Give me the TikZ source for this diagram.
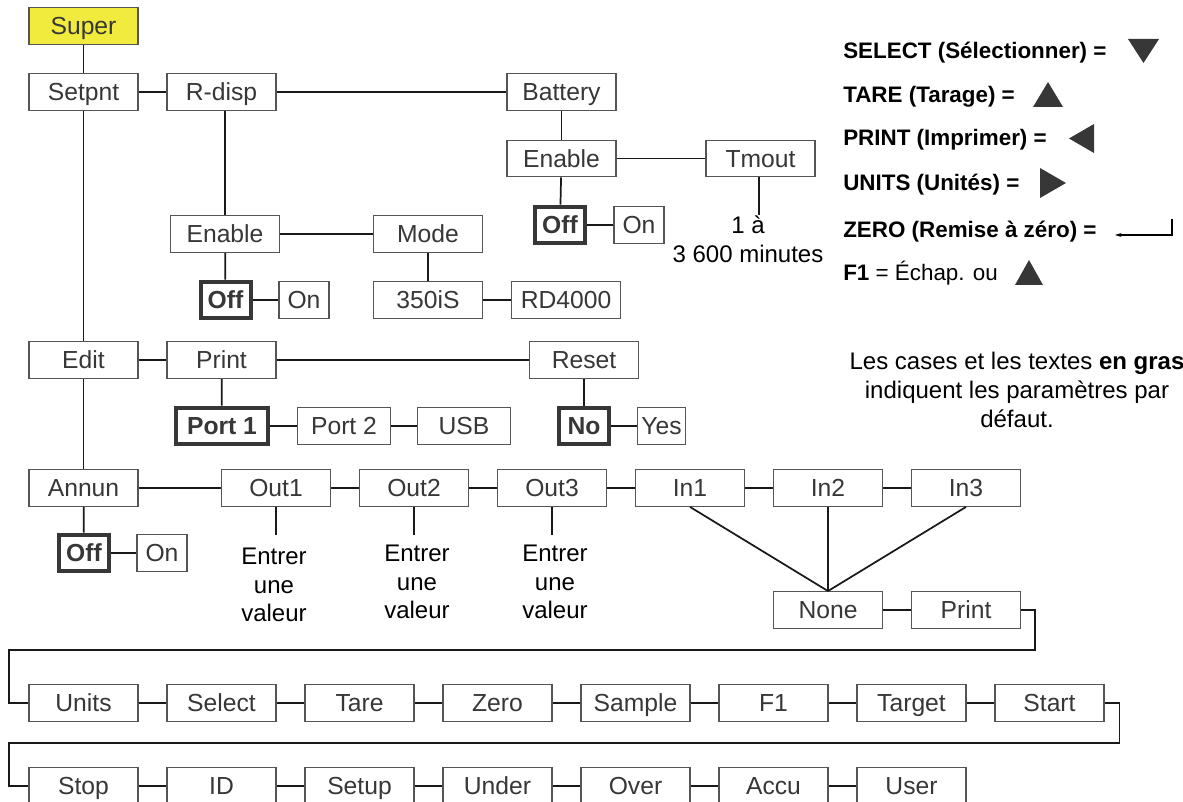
\documentclass[tikz,border=0pt]{standalone}
\usepackage{fontspec}
\setmainfont{Liberation Sans}
\usetikzlibrary{positioning, arrows.meta, calc}
\definecolor{superyellow}{RGB}{240,235,60}
\definecolor{edge}{RGB}{85,85,85}
\definecolor{ink}{RGB}{55,55,55}
\definecolor{wire}{RGB}{25,25,25}

\begin{document}
\begin{tikzpicture}[
    x=0.75pt, y=-0.75pt,
    box/.style={draw=edge, line width=0.9pt, fill=white, minimum width=81.75pt, minimum height=27.5pt, inner sep=0pt, text height=13.3pt, text depth=0pt, text=ink, font=\fontsize{18.5}{20}\selectfont},
    small/.style={box, minimum width=37.5pt},
    dflt/.style={box, line width=3pt, draw=ink, minimum width=37.5pt, font=\fontsize{18.5}{20}\selectfont\bfseries},
    wire/.style={draw=wire, line width=1.3pt},
    note/.style={align=center, text=black, inner sep=0pt, font=\fontsize{17.5}{21.5}\selectfont},
    key/.style={anchor=base west, inner sep=0pt, text=black, font=\fontsize{16.8}{20}\selectfont}
]
    \useasboundingbox (0,0) rectangle (1183,802);

    % main menu column
    \node[box, fill=superyellow] (super) at (83.5,26) {Super};
    \node[box] (setpnt) at (83.5,92) {Setpnt};
    \node[box] (rdisp) at (221.5,92) {R-disp};
    \node[box] (battery) at (561.5,92) {Battery};

    % battery branch
    \node[box] (benable) at (561.5,158.5) {Enable};
    \node[box] (tmout) at (760.5,158.5) {Tmout};
    \node[dflt] (boff) at (560,225) {Off};
    \node[small] (bon) at (639,225) {On};
    \node[note, font=\fontsize{18}{22}\selectfont] (tmval) at (748,239) {1 à\\3 600 minutes};

    % r-disp branch
    \node[box] (renable) at (225,234) {Enable};
    \node[box] (mode) at (428,234) {Mode};
    \node[dflt] (roff) at (225.5,300) {Off};
    \node[small] (ron) at (304,300) {On};
    \node[box] (m350) at (428,300) {350iS};
    \node[box] (rd4000) at (566,300) {RD4000};

    % edit
    \node[box] (edit) at (83.5,360) {Edit};
    \node[box] (print) at (221.5,360) {Print};
    \node[box] (reset) at (584,360) {Reset};
    \node[dflt, minimum width=69pt] (port1) at (222,426) {Port 1};
    \node[box, minimum width=70pt] (port2) at (344,426) {Port 2};
    \node[box, minimum width=70pt] (usb) at (464,426) {USB};
    \node[dflt] (no) at (584,426) {No};
    \node[small, minimum width=36.5pt] (yes) at (661.5,426) {Yes};

    % annun
    \node[box] (annun) at (83.5,488) {Annun};
    \node[box] (out1) at (276,488) {Out1};
    \node[box] (out2) at (414,488) {Out2};
    \node[box] (out3) at (552,488) {Out3};
    \node[box] (in1) at (690,488) {In1};
    \node[box] (in2) at (828,488) {In2};
    \node[box] (in3) at (966,488) {In3};
    \node[dflt] (aoff) at (84,553) {Off};
    \node[small] (aon) at (162,553) {On};
    \node[note, font=\fontsize{18}{21.5}\selectfont] (val1) at (274,585) {Entrer\\une\\valeur};
    \node[note, font=\fontsize{18}{21.5}\selectfont] (val2) at (417,582) {Entrer\\une\\valeur};
    \node[note, font=\fontsize{18}{21.5}\selectfont] (val3) at (555,582) {Entrer\\une\\valeur};
    \node[box] (none) at (828,610) {None};
    \node[box] (printb) at (966,610) {Print};

    % keys rows
    \node[box] (units) at (83.5,703) {Units};
    \node[box] (select) at (221.5,703) {Select};
    \node[box] (tare) at (359.5,703) {Tare};
    \node[box] (zero) at (497.5,703) {Zero};
    \node[box] (sample) at (635.5,703) {Sample};
    \node[box] (fone) at (773.5,703) {F1};
    \node[box] (target) at (911.5,703) {Target};
    \node[box] (start) at (1049.5,703) {Start};
    \node[box] (stop) at (83.5,786) {Stop};
    \node[box] (id) at (221.5,786) {ID};
    \node[box] (setup) at (359.5,786) {Setup};
    \node[box] (under) at (497.5,786) {Under};
    \node[box] (over) at (635.5,786) {Over};
    \node[box] (accu) at (773.5,786) {Accu};
    \node[box] (user) at (911.5,786) {User};

    \coordinate (wrapA) at (9,650);
    \coordinate (wrapB) at (9,743);

    % links
    \draw[wire] (super) -- (setpnt);
    \draw[wire] (setpnt) -- (rdisp);
    \draw[wire] (rdisp) -- (battery);
    \draw[wire] (setpnt) -- (edit);
    \draw[wire] (edit) -- (annun);
    \draw[wire] (battery) -- (benable);
    \draw[wire] (benable) -- (tmout);
    \draw[wire] (benable) -- (boff);
    \draw[wire] (boff) -- (bon);
    \draw[wire] (tmout.south -| 759,0) -- (759,0 |- tmval.north);
    \draw[wire] (renable.north) -- (renable.north |- rdisp.south);
    \draw[wire] (renable) -- (mode);
    \draw[wire] (renable) -- (roff);
    \draw[wire] (roff) -- (ron);
    \draw[wire] (mode) -- (m350);
    \draw[wire] (m350) -- (rd4000);
    \draw[wire] (edit) -- (print);
    \draw[wire] (print) -- (reset);
    \draw[wire] (print) -- (port1);
    \draw[wire] (port1) -- (port2);
    \draw[wire] (port2) -- (usb);
    \draw[wire] (reset) -- (no);
    \draw[wire] (no) -- (yes);
    \draw[wire] (annun) -- (out1);
    \draw[wire] (out1) -- (out2);
    \draw[wire] (out2) -- (out3);
    \draw[wire] (out3) -- (in1);
    \draw[wire] (in1) -- (in2);
    \draw[wire] (in2) -- (in3);
    \draw[wire] (annun) -- (aoff);
    \draw[wire] (aoff) -- (aon);
    \draw[wire] (out1.south) -- ++(0,28);
    \draw[wire] (out2.south) -- ++(0,28);
    \draw[wire] (out3.south) -- ++(0,28);
    \draw[wire] (in1.south) -- (none.north);
    \draw[wire] (in2.south) -- (none.north);
    \draw[wire] (in3.south) -- (none.north);
    \draw[wire] (none) -- (printb);
    \draw[wire] (printb.east) -- ++(14,0) |- (wrapA) |- (units.west);
    \draw[wire] (units) -- (select);
    \draw[wire] (select) -- (tare);
    \draw[wire] (tare) -- (zero);
    \draw[wire] (zero) -- (sample);
    \draw[wire] (sample) -- (fone);
    \draw[wire] (fone) -- (target);
    \draw[wire] (target) -- (start);
    \draw[wire] (start.east) -- ++(15,0) |- (wrapB) |- (stop.west);
    \draw[wire] (stop) -- (id);
    \draw[wire] (id) -- (setup);
    \draw[wire] (setup) -- (under);
    \draw[wire] (under) -- (over);
    \draw[wire] (over) -- (accu);
    \draw[wire] (accu) -- (user);

    % legend
    \node[key] (kselect) at (843,59) {\textbf{SELECT (Sélectionner) =}};
    \node[key] (ktare) at (843,103) {\textbf{TARE (Tarage) =}};
    \node[key] (kprint) at (843,146) {\textbf{PRINT (Imprimer) =}};
    \node[key] (kunits) at (843,191) {\textbf{UNITS (Unités) =}};
    \node[key] (kzero) at (843,238) {\textbf{ZERO (Remise à zéro) =}};
    \node[key] (kfone) at (843,281) {\textbf{F1} = Échap. ou};
    \fill[ink] (1128,39) -- (1159,39) -- (1143.5,63) -- cycle;
    \fill[ink] (1033,107) -- (1063,107) -- (1048,82) -- cycle;
    \fill[ink] (1094,124) -- (1094,153) -- (1069,138.5) -- cycle;
    \fill[ink] (1040,168) -- (1040,198) -- (1066,183) -- cycle;
    \fill[ink] (1015,285) -- (1043,285) -- (1029,260) -- cycle;
    \draw[line width=0.8pt, -{Stealth[length=5pt, width=3pt]}] (1172,219) -- (1172,235) -- (1115,235);

    \node[note, font=\fontsize{18}{21.5}\selectfont] (remark) at (1017,390) {Les cases et les textes \textbf{en gras}\\indiquent les paramètres par\\défaut.};
\end{tikzpicture}
\end{document}
